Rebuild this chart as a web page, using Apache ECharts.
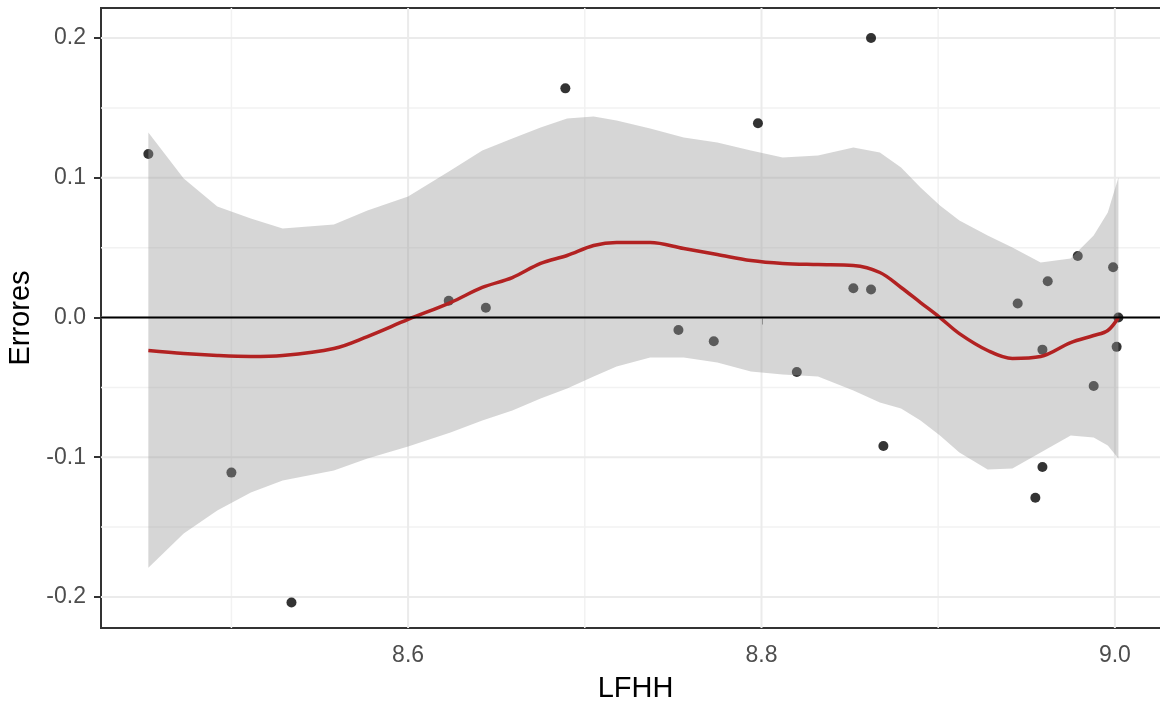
<!DOCTYPE html>
<html>
<head>
<meta charset="utf-8">
<script src="https://cdn.jsdelivr.net/npm/echarts@6/dist/echarts.min.js"></script>
<style>
  html, body { margin: 0; padding: 0; background: #fff; }
  #chart { width: 1160px; height: 702px; }
</style>
</head>
<body>
<div id="chart"></div>
<script>
// Residuals (Errores) against LFHH
const lfhh = [8.453, 8.500, 8.534, 8.623, 8.644, 8.689, 8.753, 8.773, 8.798, 8.820,
              8.852, 8.862, 8.862, 8.869, 8.945, 8.955, 8.959, 8.959, 8.962, 8.979,
              8.988, 8.999, 9.001, 9.002];
const errores = [0.117, -0.111, -0.204, 0.012, 0.007, 0.164, -0.009, -0.017, 0.139, -0.039,
                 0.021, 0.020, 0.200, -0.092, 0.010, -0.129, -0.023, -0.107, 0.026, 0.044,
                 -0.049, 0.036, -0.021, 0.000];

// Loess smoother and its confidence band
const smoothX = [8.453, 8.473, 8.492, 8.511, 8.529, 8.558, 8.577, 8.600, 8.624, 8.642,
                 8.659, 8.675, 8.690, 8.705, 8.718, 8.737, 8.756, 8.775, 8.794, 8.812,
                 8.832, 8.852, 8.867, 8.879, 8.890, 8.901, 8.912, 8.928, 8.942, 8.958,
                 8.975, 8.988, 8.996, 9.002];
const smoothFit = [-0.0236, -0.0258, -0.0272, -0.0279, -0.0272, -0.0222, -0.0136, -0.0014, 0.0107, 0.0215,
                   0.0286, 0.0387, 0.0444, 0.0515, 0.0537, 0.0537, 0.0494, 0.0451, 0.0408, 0.0387,
                   0.0379, 0.0372, 0.0322, 0.0215, 0.0107, 0.0000, -0.0115, -0.0236, -0.0293, -0.0279,
                   -0.0179, -0.0129, -0.0093, 0.0000];
const smoothUpper = [0.1324, 0.0995, 0.0795, 0.0709, 0.0637, 0.0666, 0.0766, 0.0866, 0.1052, 0.1195,
                     0.1281, 0.1360, 0.1424, 0.1439, 0.1410, 0.1353, 0.1288, 0.1253, 0.1195, 0.1145,
                     0.1160, 0.1217, 0.1181, 0.1074, 0.0931, 0.0802, 0.0694, 0.0587, 0.0501, 0.0394,
                     0.0422, 0.0587, 0.0752, 0.1002];
const smoothLower = [-0.1790, -0.1546, -0.1382, -0.1253, -0.1167, -0.1095, -0.1009, -0.0923, -0.0823, -0.0737,
                     -0.0666, -0.0580, -0.0508, -0.0422, -0.0351, -0.0286, -0.0286, -0.0322, -0.0387, -0.0408,
                     -0.0422, -0.0523, -0.0608, -0.0651, -0.0737, -0.0845, -0.0966, -0.1088, -0.1081, -0.0966,
                     -0.0845, -0.0859, -0.0916, -0.1009];

// Axis ticks and grid lines
const xTicks = [8.6, 8.8, 9.0];
const xMinor = [8.5, 8.7, 8.9];
const yTicks = [-0.2, -0.1, 0.0, 0.1, 0.2];
const yMinor = [-0.15, -0.05, 0.05, 0.15];
const refLine = [0];

const FONT = '"Liberation Sans", Arial, sans-serif';

function vLine(color, width) {
  return function (params, api) {
    const p = api.coord([api.value(0), 0]);
    const cs = params.coordSys;
    return { type: 'line', shape: { x1: p[0], y1: cs.y, x2: p[0], y2: cs.y + cs.height },
             style: { stroke: color, lineWidth: width } };
  };
}
function hLine(color, width) {
  return function (params, api) {
    const p = api.coord([8.6, api.value(1)]);
    const cs = params.coordSys;
    return { type: 'line', shape: { x1: cs.x, y1: p[1], x2: cs.x + cs.width, y2: p[1] },
             style: { stroke: color, lineWidth: width } };
  };
}

const chart = echarts.init(document.getElementById('chart'), null, { renderer: 'canvas' });

chart.setOption({
  animation: false,
  backgroundColor: '#ffffff',
  grid: {
    left: 101, top: 8, right: -10, bottom: 74,
    show: true, backgroundColor: '#ffffff', borderColor: '#333333', borderWidth: 2,
    outerBoundsMode: 'none', containLabel: false
  },
  xAxis: {
    type: 'value', min: 8.4262, max: 9.0312,
    name: 'LFHH', nameLocation: 'middle', nameGap: 46,
    nameTextStyle: { fontFamily: FONT, fontSize: 29, color: '#000000' },
    axisLine: { show: false },
    axisTick: { show: true, customValues: xTicks, length: 7, lineStyle: { color: '#333333', width: 2 } },
    axisLabel: { show: true, customValues: xTicks, margin: 16, fontFamily: FONT, fontSize: 23, color: '#4d4d4d',
                 formatter: v => v.toFixed(1) },
    splitLine: { show: false }
  },
  yAxis: {
    type: 'value', min: -0.2222, max: 0.2215,
    name: 'Errores', nameLocation: 'middle', nameGap: 65, nameRotate: 90,
    nameTextStyle: { fontFamily: FONT, fontSize: 29, color: '#000000' },
    axisLine: { show: false },
    axisTick: { show: true, customValues: yTicks, length: 7, lineStyle: { color: '#333333', width: 2 } },
    axisLabel: { show: true, customValues: yTicks, margin: 15, fontFamily: FONT, fontSize: 23, color: '#4d4d4d',
                 formatter: v => v.toFixed(1) },
    splitLine: { show: false }
  },
  series: [
    { type: 'custom', silent: true, z: 1, data: xMinor.map(v => [v, 0]), renderItem: vLine('#f2f2f2', 1.5) },
    { type: 'custom', silent: true, z: 1, data: yMinor.map(v => [8.6, v]), renderItem: hLine('#f2f2f2', 1.5) },
    { type: 'custom', silent: true, z: 1, data: xTicks.map(v => [v, 0]), renderItem: vLine('#ebebeb', 2) },
    { type: 'custom', silent: true, z: 1, data: yTicks.map(v => [8.6, v]), renderItem: hLine('#ebebeb', 2) },
    {
      type: 'scatter', z: 2, silent: true,
      data: lfhh.map((x, i) => [x, errores[i]]),
      symbol: 'circle', symbolSize: 10,
      itemStyle: { color: '#000000' }
    },
    {
      type: 'custom', z: 3, silent: true,
      data: smoothX.map((x, i) => [x, smoothLower[i], smoothUpper[i]]),
      renderItem: function (params, api) {
        if (params.dataIndex !== 0) return null;
        const pts = [];
        for (let i = 0; i < smoothX.length; i++) pts.push(api.coord([smoothX[i], smoothUpper[i]]));
        for (let i = smoothX.length - 1; i >= 0; i--) pts.push(api.coord([smoothX[i], smoothLower[i]]));
        return { type: 'polygon', shape: { points: pts, smooth: 0 },
                 style: { fill: 'rgba(153,153,153,0.4)', stroke: null } };
      }
    },
    {
      type: 'line', z: 4, silent: true,
      data: smoothX.map((x, i) => [x, smoothFit[i]]),
      showSymbol: false, smooth: 0.35,
      lineStyle: { color: '#b22222', width: 3.5 }
    },
    { type: 'custom', silent: true, z: 5, data: refLine.map(v => [8.6, v]), renderItem: hLine('#000000', 2) }
  ]
});
</script>
</body>
</html>
